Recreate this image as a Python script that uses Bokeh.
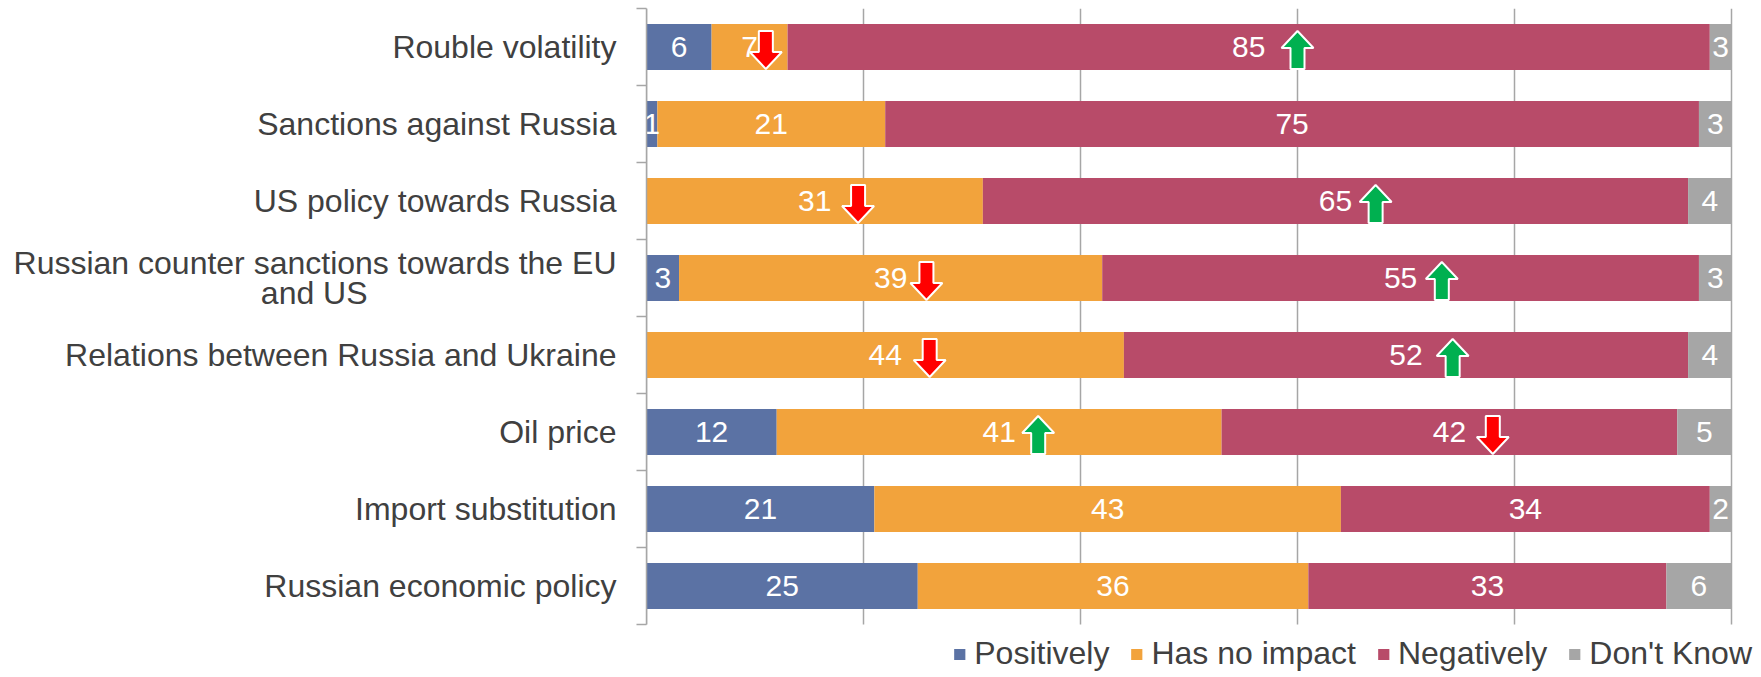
from bokeh.plotting import figure
from bokeh.models import Range1d, FixedTicker, Legend, LegendItem, ColumnDataSource
from bokeh.core.properties import value
from bokeh.embed import file_html
from bokeh.resources import INLINE

categories = ["Rouble volatility", "Sanctions against Russia", "US policy towards Russia",
              "Russian counter sanctions towards the EU\nand US",
              "Relations between Russia and Ukraine", "Oil price",
              "Import substitution", "Russian economic policy"]
positively = [6, 1, 0, 3, 0, 12, 21, 25]
no_impact = [7, 21, 31, 39, 44, 41, 43, 36]
negatively = [85, 75, 65, 55, 52, 42, 34, 33]
dont_know = [3, 3, 4, 3, 4, 5, 2, 6]
series_names = ["Positively", "Has no impact", "Negatively", "Don't Know"]
colors = ["#5B72A4", "#F2A33C", "#B84B69", "#A6A6A6"]
x_ticks = [0, 20, 40, 60, 80, 100]
AXIS_MAX = 100

# change arrows (row index from top, position on the value axis, direction)
arrow_rows = [0, 0, 2, 2, 3, 3, 4, 4, 5, 5]
arrow_x = [11.0, 60.0, 19.5, 67.2, 25.8, 73.3, 26.1, 74.3, 36.1, 78.0]
arrow_dir = ["down", "up", "down", "up", "down", "up", "down", "up", "up", "down"]

FONT = "Liberation Sans"
TXT = "#404040"
GRID = "#A6A6A6"
LABEL_SIZE = "32px"
n = len(categories)
ys = [n - i - 0.5 for i in range(n)]

px_x = 1085 / AXIS_MAX   # px per value unit
px_y = 77.0              # px per category
W = 1757
X_END = AXIS_MAX + (W - 1731) / px_x   # frame extends to the right edge for the legend

p = figure(width=W, height=677, output_backend="svg", toolbar_location=None,
           x_range=Range1d(0, X_END), y_range=Range1d(-53 / px_y, n),
           min_border_left=646, min_border_right=0, min_border_top=8, min_border_bottom=0)
p.outline_line_color = None
p.xaxis.visible = False
p.xgrid.visible = False
p.ygrid.visible = False

# vertical gridlines over the category area
p.segment(x0=x_ticks, y0=[0] * len(x_ticks), x1=x_ticks, y1=[n] * len(x_ticks),
          line_color=GRID, line_width=1.5)

series = [positively, no_impact, negatively, dont_know]
left = [0.0] * n
renderers = []
lx, ly, lt = [], [], []
for vals, name, col in zip(series, series_names, colors):
    right = [min(l + v, AXIS_MAX) for l, v in zip(left, vals)]   # axis max clips bars
    src = ColumnDataSource(dict(y=ys, left=left, right=right))
    r = p.hbar(y="y", left="left", right="right", height=0.6, source=src,
               fill_color=col, line_color=col, line_width=0)
    renderers.append((name, r))
    for i, v in enumerate(vals):
        if v > 0:
            lx.append((left[i] + right[i]) / 2)
            ly.append(ys[i])
            lt.append(str(v))
    left = right

p.text(x=lx, y=ly, text=lt, text_color="white", text_font=value(FONT),
       text_font_size="30px", text_align="center", text_baseline="middle")

# arrows
sw, hw = 7 / px_x, 16 / px_x
h, hh = 38 / px_y, 17 / px_y
xs_a, ys_a, cols_a = [], [], []
for r_i, x, d in zip(arrow_rows, arrow_x, arrow_dir):
    yc = ys[r_i] - 3 / px_y
    if d == "down":
        top, tip = yc + h / 2, yc - h / 2
        neck = tip + hh
        cols_a.append("#FF0000")
    else:
        top, tip = yc - h / 2, yc + h / 2
        neck = tip - hh
        cols_a.append("#00B050")
    xs_a.append([x - sw, x + sw, x + sw, x + hw, x, x - hw, x - sw])
    ys_a.append([top, top, neck, neck, tip, neck, neck])
p.patches(xs_a, ys_a, fill_color=cols_a, line_color="white", line_width=2)

yax = p.yaxis[0]
yax.bounds = (0, n)
yax.ticker = FixedTicker(ticks=ys, minor_ticks=list(range(n + 1)))
overrides = {}
for y, c in zip(ys, categories):
    if "\n" in c:
        # wrapped category: centre the short line under the long one
        lines = c.split("\n")
        pad = "\u00a0" * 28
        overrides[y] = lines[0] + "\n" + lines[1] + pad
    else:
        overrides[y] = c
yax.major_label_overrides = overrides
yax.major_tick_out = 0
yax.major_tick_in = 0
yax.minor_tick_out = 10
yax.minor_tick_in = 0
yax.minor_tick_line_color = GRID
yax.minor_tick_line_width = 1.5
yax.axis_line_color = GRID
yax.axis_line_width = 1.5
yax.major_label_standoff = 20
yax.major_label_text_font = FONT
yax.major_label_text_font_size = LABEL_SIZE
yax.major_label_text_color = TXT
yax.major_label_text_line_height = 0.85

legend = Legend(items=[LegendItem(label=nm, renderers=[r]) for nm, r in renderers],
                orientation="horizontal", location="bottom_right")
legend.label_text_font = FONT
legend.label_text_font_size = LABEL_SIZE
legend.label_text_color = TXT
legend.glyph_width = 14
legend.glyph_height = 14
legend.label_standoff = 8
legend.spacing = 20
legend.padding = 0
legend.margin = 5
legend.border_line_color = None
legend.background_fill_alpha = 0
p.add_layout(legend)

open("out.html", "w").write(file_html(p, INLINE))
